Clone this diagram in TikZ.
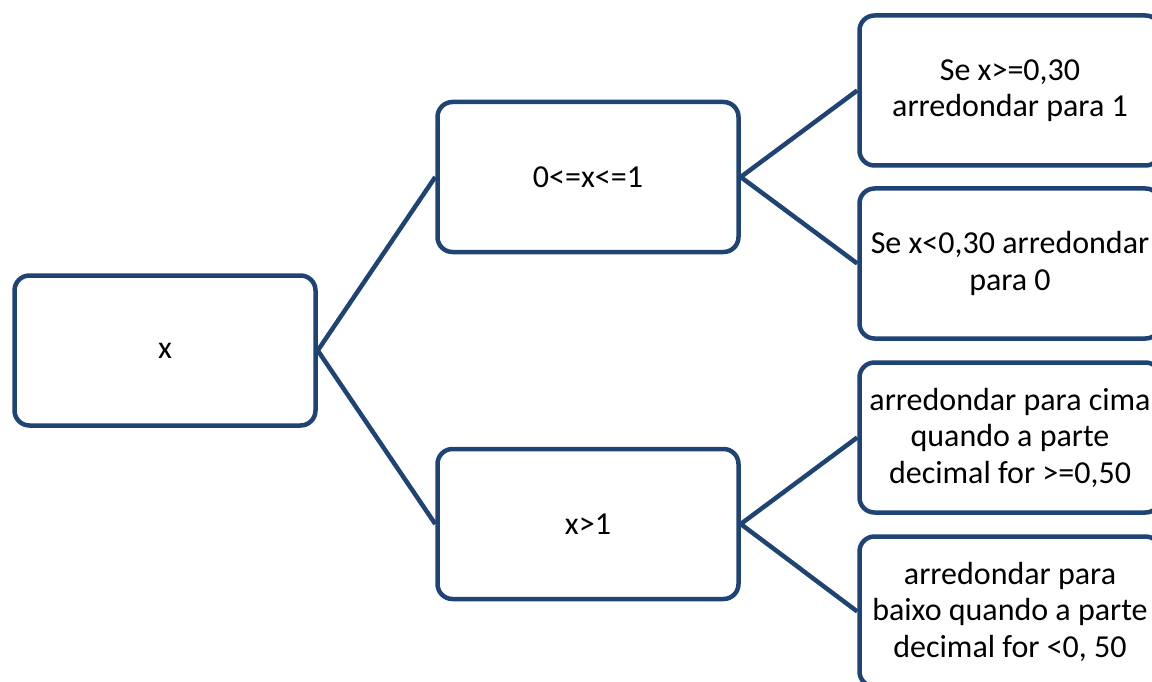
\documentclass[tikz,border=0pt]{standalone}
\usepackage{fontspec}
\setmainfont{Carlito}
\definecolor{edgeblue}{RGB}{31,68,116}
\begin{document}
\begin{tikzpicture}[
  x=1pt, y=-1pt,
  box/.style={draw=edgeblue, line width=4.5pt, rounded corners=15pt, fill=white, align=center,
    minimum width=301pt, minimum height=150pt, inner sep=0pt,
    font=\fontsize{32pt}{36.5pt}\selectfont},
  link/.style={draw=edgeblue, line width=4.5pt}
]
\useasboundingbox (0,0) rectangle (1152,682);
\node[box] (x) at (165,350.5) {x};
\node[box] (small) at (588,177) {0<=x<=1};
\node[box] (big) at (588,524) {x>1};
\node[box] (roundone) at (1010,90.5) {Se x>=0,30\\arredondar para 1};
\node[box] (roundzero) at (1010,263.5) {Se x<0,30 arredondar\\para 0};
\node[box] (roundup) at (1010,437.5) {arredondar para cima\\quando a parte\\decimal for >=0,50};
\node[box] (rounddown) at (1010,611.5) {arredondar para\\baixo quando a parte\\decimal for <0, 50};
\draw[link] (x.east) -- (small.west);
\draw[link] (x.east) -- (big.west);
\draw[link] (small.east) -- (roundone.west);
\draw[link] (small.east) -- (roundzero.west);
\draw[link] (big.east) -- (roundup.west);
\draw[link] (big.east) -- (rounddown.west);
\end{tikzpicture}
\end{document}
